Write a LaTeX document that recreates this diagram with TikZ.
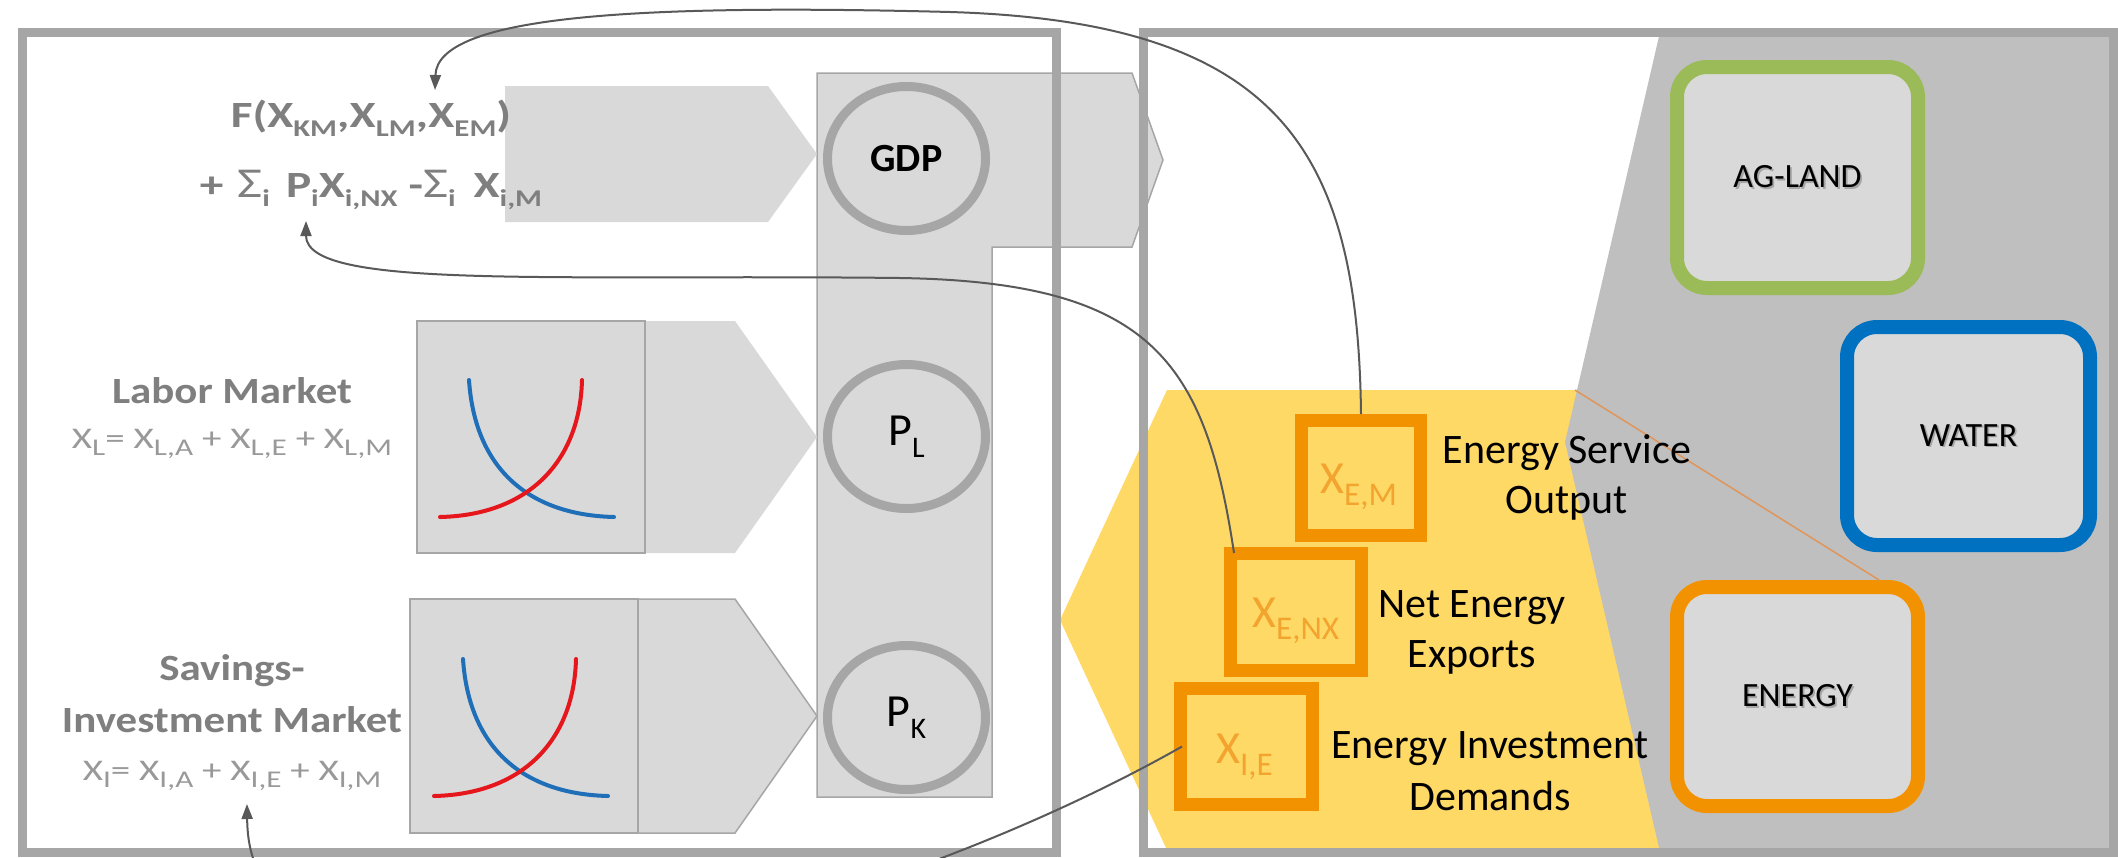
\documentclass[tikz,border=0pt]{standalone}
\usepackage{fontspec}
\usepackage{graphicx}
\setmainfont{Carlito}
\newfontfamily\wideface[FakeStretch=1.16]{Carlito}
\newfontfamily\eqface[FakeStretch=1.28]{Carlito}
\newfontfamily\thinface[FakeStretch=1.3]{Carlito}
\usetikzlibrary{arrows.meta,calc,shapes.geometric}

\definecolor{frame}{HTML}{A6A6A6}
\definecolor{boxfill}{HTML}{D9D9D9}
\definecolor{zone}{HTML}{BFBFBF}
\definecolor{gold}{HTML}{FFD966}
\definecolor{amber}{HTML}{F39200}
\definecolor{amberText}{HTML}{F2A42E}
\definecolor{leaf}{HTML}{9BBB59}
\definecolor{sea}{HTML}{0070C0}
\definecolor{ink}{HTML}{7F7F7F}
\definecolor{inklight}{HTML}{999999}
\definecolor{wirecol}{HTML}{595959}
\definecolor{supply}{HTML}{E5161C}
\definecolor{demand}{HTML}{1F6EB8}
\definecolor{calloutcol}{HTML}{E0955A}

% lowered, reduced text for indices
\newcommand\lo[1]{\raisebox{-0.25em}{\scalebox{0.65}{#1}}}
% larger indices used in the market balances and quantity boxes
\newcommand\los[1]{\raisebox{-0.25em}{\scalebox{0.8}{#1}}}
\newcommand\lob[1]{\raisebox{-0.27em}{\scalebox{0.72}{#1}}}
% summation sign of the GDP identity
\newcommand\bigsum{{\mdseries\scalebox{1.15}{Σ}}}
% label with a soft drop shadow
\newcommand\softshadow[1]{\rlap{\raisebox{-1.8pt}{\hspace*{1.8pt}\textcolor{black!35}{#1}}}#1}

\begin{document}
\begin{tikzpicture}[x=1pt,y=-1pt,
  frameline/.style={draw=frame, line width=9},
  panelshape/.style={fill=boxfill, draw=frame, line width=1.5},
  ring/.style={ellipse, draw=frame, line width=9, fill=boxfill, inner sep=0,
    minimum width=158, minimum height=144},
  sector/.style={rectangle, rounded corners=30, line width=14, fill=boxfill,
    inner sep=0, font=\fontsize{34}{40}\selectfont},
  xbox/.style={rectangle, draw=amber, line width=13, fill=gold, inner sep=0},
  xlabel/.style={anchor=base west, inner sep=0, text=amberText,
    font=\fontsize{46}{52}\selectfont},
  wire/.style={draw=wirecol, line width=2, -{Triangle[length=15,width=11]}},
  lefthead/.style={font=\wideface\bfseries\fontsize{37}{44}\selectfont,
    text=ink, anchor=base, inner sep=0},
  eqhead/.style={font=\eqface\bfseries\fontsize{37}{44}\selectfont,
    text=ink, anchor=base, inner sep=0},
  leftsum/.style={font=\thinface\fontsize{30}{36}\selectfont,
    text=inklight, anchor=base, inner sep=0},
  energylabel/.style={font=\fontsize{42}{50}\selectfont, anchor=base, inner sep=0},
  curve/.style={line width=4, line cap=round}]

\useasboundingbox (0,0) rectangle (2118,857);
\clip (0,0) rectangle (2118,857);
\fill[white] (0,0) rectangle (2118,857);

% energy-sector arrow and the resource zone
\fill[gold] (1060,620) -- (1167,390) -- (1700,390) -- (1700,850) -- (1167,850) -- cycle;
\fill[zone] (1660,32) -- (2113,32) -- (2113,852) -- (1660,852) -- (1565,442) -- cycle;

% price column with the GDP outlet
\filldraw[panelshape] (817,73) -- (1132,73) -- (1163,160) -- (1132,247)
  -- (992,247) -- (992,797) -- (817,797) -- cycle;

% feeding chevrons
\fill[boxfill] (505,86) -- (768,86) -- (817,154) -- (768,222) -- (505,222) -- cycle;
\fill[boxfill] (645,321) -- (735,321) -- (817,437) -- (735,553) -- (645,553) -- cycle;
\filldraw[panelshape] (638,599) -- (735,599) -- (817,716) -- (735,833) -- (638,833) -- cycle;

% market diagrams
\node[panelshape, minimum width=228, minimum height=232, inner sep=0] (labor) at (531,437) {};
\node[panelshape, minimum width=228, minimum height=234, inner sep=0] (saving) at (524,716) {};
\draw[curve, demand] (469,380) .. controls (475,470) and (530,515) .. (614,517);
\draw[curve, supply] (440,517) .. controls (530,515) and (580,460) .. (582,380);
\draw[curve, demand] (463,659) .. controls (469,749) and (524,794) .. (608,796);
\draw[curve, supply] (434,796) .. controls (524,794) and (574,739) .. (576,659);

% prices
\node[ring, font=\bfseries\fontsize{40}{48}\selectfont] (gdp) at (906.5,158.5) {GDP};
\node[ring, font=\fontsize{46}{54}\selectfont] (pl) at (906.5,436.5) {P\lo{L}};
\node[ring, font=\fontsize{46}{54}\selectfont] (pk) at (906.5,717.5) {P\lo{K}};

% panel frames
\draw[frameline] (22,32) rectangle (1056,852);
\draw[frameline] (1143,32) rectangle (2113,852);

% resource sectors
\node[sector, draw=leaf, minimum width=241, minimum height=221] (agland) at (1797.5,177.5) {\softshadow{AG-LAND}};
\node[sector, draw=sea, minimum width=243, minimum height=218] (water) at (1968.5,436) {\softshadow{WATER}};
\node[sector, draw=amber, minimum width=241, minimum height=219] (energy) at (1797.5,696.5) {\softshadow{ENERGY}};

\coordinate (arrowcorner) at (1575,390);
\draw[calloutcol, line width=1.5] (arrowcorner) -- (energy.55);

% energy quantities
\node[xbox, minimum width=119, minimum height=115] (xem) at (1361,478) {};
\node[xbox, minimum width=131, minimum height=117] (xenx) at (1296,612) {};
\node[xbox, minimum width=132, minimum height=116] (xie) at (1246.5,746.5) {};
\node[xlabel] (xemtext) at (1320,493) {X\lob{E,M}};
\node[xlabel] (xenxtext) at (1252,627) {X\lob{E,NX}};
\node[xlabel] (xietext) at (1216,763) {X\lob{I,E}};

\node[energylabel] (esone) at (1567,463) {Energy Service};
\node[energylabel] (estwo) at (1567,513) {Output};
\node[energylabel] (neone) at (1472,617) {Net Energy};
\node[energylabel] (netwo) at (1472,667) {Exports};
\node[energylabel] (eione) at (1490,758) {Energy Investment};
\node[energylabel] (eitwo) at (1490,810) {Demands};

% macro equations
\node[eqhead] (fone) at (371,127) {F(X\lo{KM},X\lo{LM},X\lo{EM})};
\node[eqhead] (ftwo) at (371,197) {+\hspace{14pt}\bigsum\lo{i}\hspace{16pt}P\lo{i}X\lo{i,NX}\hspace{11pt}-\bigsum\lo{i}\hspace{18pt}X\lo{i,M}};

\node[lefthead] (labhead) at (232,403) {Labor Market};
\node[leftsum] (labsum) at (232,448) {X\los{L}= X\los{L,A} + X\los{L,E} + X\los{L,M}};
\node[lefthead] (savhead) at (232,680) {Savings-};
\node[lefthead] (invhead) at (232,732) {Investment Market};
\node[leftsum] (invsum) at (232,780) {X\los{I}= X\los{I,A} + X\los{I,E} + X\los{I,M}};

% links from the energy model back to the macro economy
\coordinate (emtip) at (435,90);
\coordinate (nxtip) at (306,221);
\coordinate (ietip) at (247,804);
\draw[wire] (xem.north) .. controls (1358,150) and (1280,22) .. (950,12)
  .. controls (640,4) and (437,15) .. (emtip);
\draw[wire] ($(xenx.north west)+(10,6)$) .. controls (1205,360) and (1150,282) .. (900,278)
  .. controls (550,274) and (306,290) .. (nxtip);
\draw[wire] ($(xie.west)+(8,0)$) .. controls (1000,850) and (700,960) .. (500,950)
  .. controls (300,940) and (248,900) .. (ietip);
\end{tikzpicture}
\end{document}
